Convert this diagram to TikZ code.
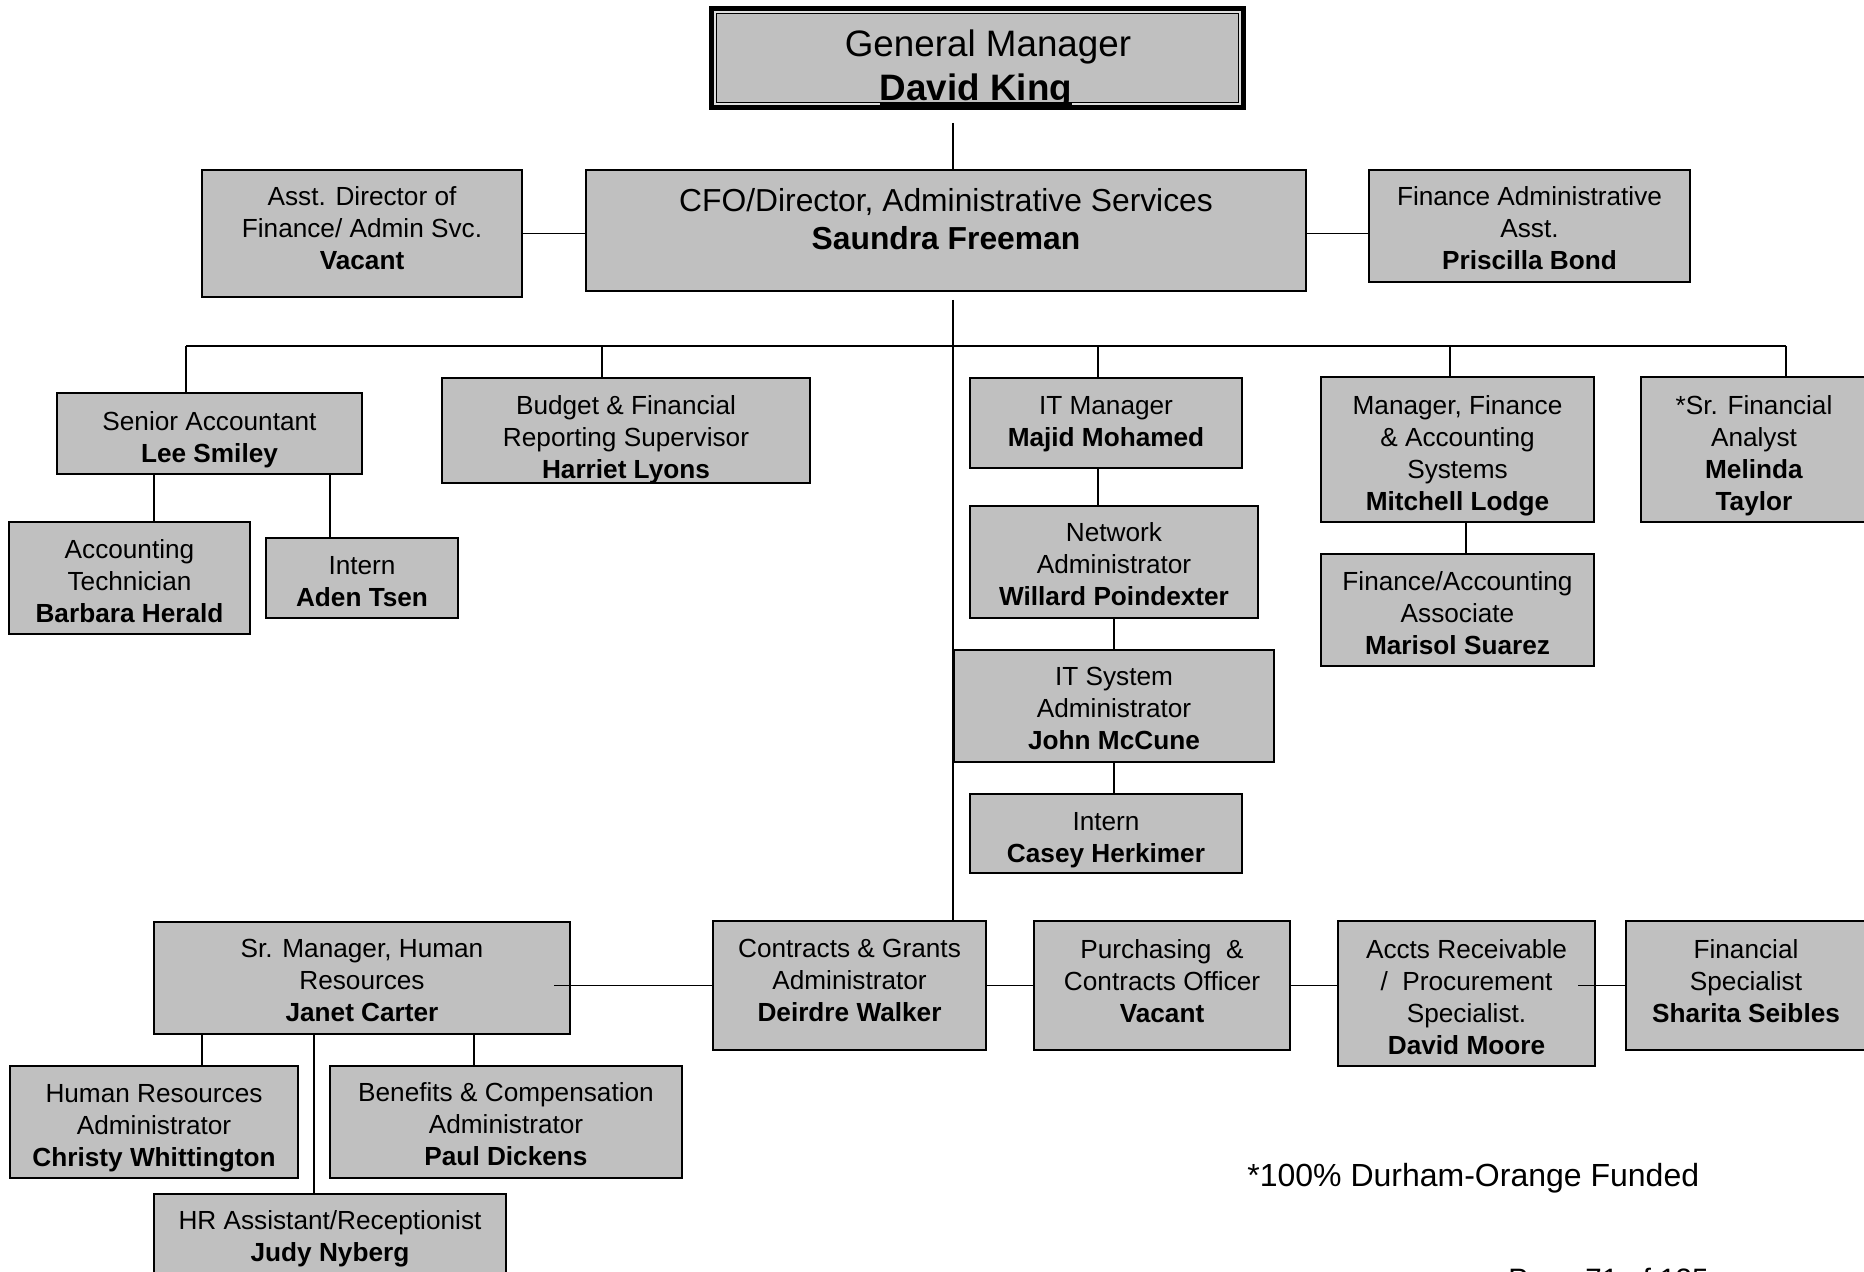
\documentclass[tikz,border=0pt]{standalone}
\usepackage{fontspec}
\setmainfont{Liberation Sans}
\definecolor{boxgray}{RGB}{192,192,192}
\definecolor{gapgray}{RGB}{222,222,222}
\newcommand\orgfont{\fontsize{13.1}{16}\selectfont}
\newcommand\gmfont{\fontsize{18.4}{22.5}\selectfont}
\newcommand\cfofont{\fontsize{15.9}{19}\selectfont}
\newcommand\notefont{\fontsize{16}{19}\selectfont}
\newcommand\pagefont{\fontsize{14.75}{18}\selectfont}
% underlined name with the rule drawn across the descenders
\newcommand\ulname[1]{\setbox0\hbox{#1}\rlap{\rule[-0.12em]{\wd0}{0.075em}}\box0}
\tikzset{
  sz/.style 2 args={minimum width=#1*0.5pt, minimum height=#2*0.5pt},
  box/.style={draw, line width=0.85pt, fill=boxgray, inner sep=0pt},
  boxtext/.style={inner sep=0pt, align=center, font=\orgfont},
  link/.style={line width=0.7pt},
  txt/.style={inner sep=0pt, anchor=base},
}
% position box: name, centre, {width}{height}, vertical text offset, text
\newcommand\orgbox[5]{%
  \node[box, sz=#3] (#1) at #2 {};
  \node[boxtext, yshift=#4] (#1-t) at (#1.center) {#5};}
\begin{document}
\begin{tikzpicture}[x=0.5pt,y=-0.5pt]
\useasboundingbox (0,0) rectangle (1864,1272);
\fill[white] (0,0) rectangle (1864,1272);
\clip (0,0) rectangle (1864,1272);

% ---- General Manager (double frame) ----
\node[sz={532}{99}, fill=gapgray, draw, line width=2.5pt, inner sep=0pt] (gm) at (977.5,58) {};
\node[sz={522}{89}, fill=boxgray, draw, line width=0.5pt, inner sep=0pt] (gmin) at (977.5,58) {};
\node[txt, font=\gmfont] (gm-t1) at (988,57) {General Manager};
\node[txt, font=\gmfont\bfseries] (gm-t2) at (976,101) {\ulname{David King}};

% ---- CFO level ----
\node[box, sz={720}{121}] (cfo) at (946,230.5) {};
\node[txt, font=\cfofont] (cfo-t1) at (946,212) {CFO/Director, Administrative Services};
\node[txt, font=\cfofont\bfseries] (cfo-t2) at (946,250) {Saundra Freeman};
\orgbox{ad}{(362,233.5)}{{320}{127}}{2.5pt}{Asst. Director of\\Finance/ Admin Svc.\\\textbf{Vacant}}
\orgbox{fa}{(1529.5,226)}{{321}{112}}{-1.2pt}{Finance Administrative\\Asst.\\\textbf{Priscilla Bond}}

% ---- second level ----
\orgbox{sa}{(209.5,433.5)}{{305}{81}}{-3pt}{Senior Accountant\\\textbf{Lee Smiley}}
\orgbox{bud}{(626,430.5)}{{368}{105}}{-4.7pt}{Budget \& Financial\\Reporting Supervisor\\\textbf{Harriet Lyons}}
\orgbox{itm}{(1106,423)}{{272}{90}}{-0.6pt}{IT Manager\\\textbf{Majid Mohamed}}
\orgbox{mfa}{(1457.5,449.5)}{{273}{145}}{-3pt}{Manager, Finance\\\& Accounting\\Systems\\\textbf{Mitchell Lodge}}
\orgbox{sfa}{(1754,449.5)}{{226}{145}}{-3pt}{*Sr. Financial\\Analyst\\\textbf{Melinda}\\\textbf{Taylor}}

% ---- accounting staff ----
\orgbox{at}{(129.5,578)}{{241}{112}}{-1.8pt}{Accounting\\Technician\\\textbf{Barbara Herald}}
\orgbox{ia}{(362,578)}{{192}{80}}{-1.8pt}{Intern\\\textbf{Aden Tsen}}

% ---- IT staff ----
\orgbox{na}{(1114,562)}{{288}{112}}{-1.2pt}{Network\\Administrator\\\textbf{Willard Poindexter}}
\orgbox{isa}{(1114,706)}{{320}{112}}{-1.2pt}{IT System\\Administrator\\\textbf{John McCune}}
\orgbox{ic}{(1106,833.5)}{{272}{79}}{-3.6pt}{Intern\\\textbf{Casey Herkimer}}

% ---- finance systems staff ----
\orgbox{fas}{(1457.5,610)}{{273}{112}}{-1.8pt}{Finance/Accounting\\Associate\\\textbf{Marisol Suarez}}

% ---- bottom row ----
\orgbox{hr}{(362,978)}{{416}{112}}{-1.2pt}{Sr. Manager, Human\\Resources\\\textbf{Janet Carter}}
\orgbox{cg}{(849.5,985.5)}{{273}{129}}{2.4pt}{Contracts \& Grants\\Administrator\\\textbf{Deirdre Walker}}
\orgbox{pc}{(1162,985.5)}{{256}{129}}{2.4pt}{Purchasing~ \&\\Contracts Officer\\\textbf{Vacant}}
\orgbox{ar}{(1466.5,993.5)}{{257}{145}}{-1.8pt}{Accts Receivable\\/~ Procurement\\Specialist.\\\textbf{David Moore}}
\orgbox{fs}{(1746,985.5)}{{240}{129}}{2.4pt}{Financial\\Specialist\\\textbf{Sharita Seibles}}

% ---- human resources staff ----
\orgbox{hra}{(154,1122)}{{288}{112}}{-3pt}{Human Resources\\Administrator\\\textbf{Christy Whittington}}
\orgbox{bc}{(506,1122)}{{352}{112}}{-1.2pt}{Benefits \& Compensation\\Administrator\\\textbf{Paul Dickens}}
\orgbox{hrs}{(330,1238)}{{352}{88}}{-0.6pt}{HR Assistant/Receptionist\\\textbf{Judy Nyberg}}

% ---- connector anchors ----
\coordinate (gmstub) at (953,123);
\coordinate (cfostub) at (953,300);
\coordinate (busL) at (186,346);
\coordinate (busR) at (1786,346);
\coordinate (d-bud) at (602,346);
\coordinate (d-itm) at (1098,346);
\coordinate (d-mfa) at (1450,346);
\coordinate (c-at) at (154,0);
\coordinate (c-ia) at (330,0);
\coordinate (c-it) at (1098,0);
\coordinate (c-isa) at (1114,0);
\coordinate (c-fas) at (1466,0);
\coordinate (c-hra) at (202,0);
\coordinate (c-hrs) at (314,0);
\coordinate (c-bc) at (474,0);
\coordinate (hrin) at (554,0);
\coordinate (arin) at (1578,0);

% ---- connectors ----
\draw[link] (gmstub) -- (gmstub |- cfo.north);
\draw[link] (ad.east) -- (ad.east -| cfo.west);
\draw[link] (cfo.east |- ad.east) -- (fa.west |- ad.east);
\draw[link] (cfostub) -- (cfostub |- cg.north);
\draw[link] (busL) -- (busR);
\draw[link] (busL) -- (busL |- sa.north);
\draw[link] (d-bud) -- (d-bud |- bud.north);
\draw[link] (d-itm) -- (d-itm |- itm.north);
\draw[link] (d-mfa) -- (d-mfa |- mfa.north);
\draw[link] (busR) -- (busR |- sfa.north);
\draw[link] (sa.south -| c-at) -- (at.north -| c-at);
\draw[link] (sa.south -| c-ia) -- (ia.north -| c-ia);
\draw[link] (itm.south -| c-it) -- (na.north -| c-it);
\draw[link] (na.south -| c-isa) -- (isa.north -| c-isa);
\draw[link] (isa.south -| c-isa) -- (ic.north -| c-isa);
\draw[link] (mfa.south -| c-fas) -- (fas.north -| c-fas);
\draw[link] (cg.west -| hrin) -- (cg.west);
\draw[link] (cg.east) -- (pc.west);
\draw[link] (pc.east) -- (pc.east -| ar.west);
\draw[link] (fs.west -| arin) -- (fs.west);
\draw[link] (hr.south -| c-hra) -- (hra.north -| c-hra);
\draw[link] (hr.south -| c-bc) -- (bc.north -| c-bc);
\draw[link] (hr.south -| c-hrs) -- (hrs.north -| c-hrs);

% ---- notes ----
\node[inner sep=0pt, anchor=base west, font=\notefont] (note) at (1247,1186) {*100\% Durham-Orange Funded};
\node[inner sep=0pt, anchor=base west, font=\pagefont] (page) at (1508,1289) {Page 71 of 135};
\end{tikzpicture}
\end{document}
